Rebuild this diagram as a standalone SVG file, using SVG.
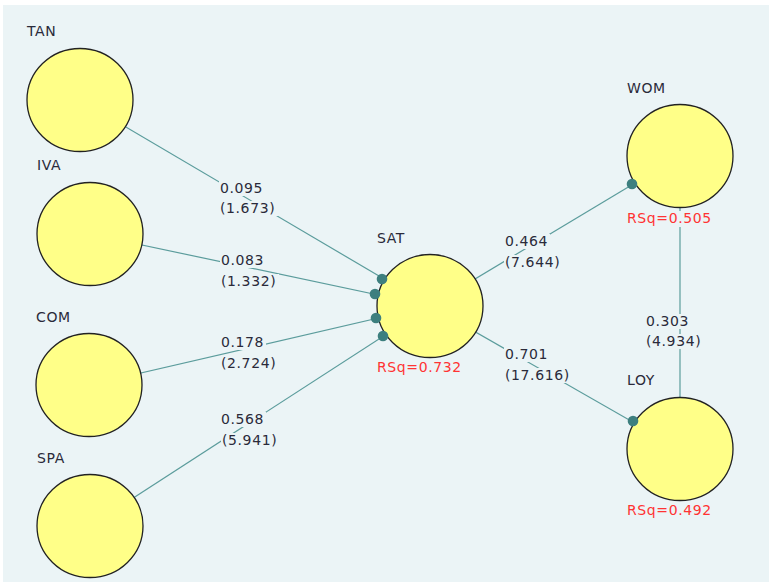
<svg xmlns="http://www.w3.org/2000/svg" width="769" height="582" viewBox="0 0 769 582">
<style>
text{font-family:"DejaVu Sans","Verdana",sans-serif;font-size:14px;letter-spacing:0.6px;fill:#2a2a3a}
.rsq{fill:#ff3333}
.lv{fill:#ffff88;stroke:#222;stroke-width:1.3}
.path{stroke:#5b9c9c;stroke-width:1.2;fill:none}
.dot{fill:#3d7f7f}
.bg{fill:#ebf4f6}
</style>
<rect x="0" y="0" width="769" height="582" fill="#ffffff"/>
<rect x="3" y="5" width="766" height="577" class="bg"/>
<g id="connectors">
<line class="path" x1="80" y1="100" x2="430" y2="306"/>
<line class="path" x1="90" y1="234" x2="430" y2="306"/>
<line class="path" x1="89" y1="385" x2="430" y2="306"/>
<line class="path" x1="90" y1="526" x2="430" y2="306"/>
<line class="path" x1="430" y1="306" x2="680" y2="156"/>
<line class="path" x1="430" y1="306" x2="680" y2="449"/>
<line class="path" x1="680" y1="156" x2="680" y2="449"/>
<g id="path-labels">
<rect class="bg" x="219" y="181" width="46" height="15"/><rect class="bg" x="219" y="201" width="59" height="15"/>
<text x="220" y="193">0.095</text><text x="220" y="213">(1.673)</text>
<rect class="bg" x="220" y="253" width="46" height="15"/><rect class="bg" x="220" y="274" width="59" height="15"/>
<text x="221" y="265">0.083</text><text x="221" y="286">(1.332)</text>
<rect class="bg" x="220" y="335" width="46" height="15"/><rect class="bg" x="220" y="356" width="59" height="15"/>
<text x="221" y="347">0.178</text><text x="221" y="368">(2.724)</text>
<rect class="bg" x="220" y="412" width="46" height="15"/><rect class="bg" x="221" y="433" width="59" height="15"/>
<text x="221" y="424">0.568</text><text x="222" y="445">(5.941)</text>
<rect class="bg" x="504" y="234" width="46" height="15"/><rect class="bg" x="504" y="255" width="59" height="15"/>
<text x="505" y="246">0.464</text><text x="505" y="267">(7.644)</text>
<rect class="bg" x="504" y="347" width="46" height="15"/><rect class="bg" x="504" y="368" width="68" height="15"/>
<text x="505" y="359">0.701</text><text x="505" y="380">(17.616)</text>
<rect class="bg" x="645" y="314" width="46" height="15"/><rect class="bg" x="645" y="334" width="59" height="15"/>
<text x="646" y="326">0.303</text><text x="646" y="346">(4.934)</text>
</g>
</g>
<g id="TAN"><ellipse class="lv" cx="80" cy="100" rx="53" ry="51.5"/><text x="27" y="36">TAN</text></g>
<g id="IVA"><ellipse class="lv" cx="90" cy="234" rx="53" ry="51.5"/><text x="37" y="170">IVA</text></g>
<g id="COM"><ellipse class="lv" cx="89" cy="385" rx="53" ry="51.5"/><text x="36" y="322">COM</text></g>
<g id="SPA"><ellipse class="lv" cx="90" cy="526" rx="53" ry="51.5"/><text x="37" y="463">SPA</text></g>
<g id="SAT"><ellipse class="lv" cx="430" cy="306" rx="53" ry="51.5"/><text x="377" y="243">SAT</text>
<rect class="bg" x="376" y="360" width="90" height="15"/><text class="rsq" x="377" y="372">RSq=0.732</text></g>
<g id="WOM"><ellipse class="lv" cx="680" cy="156" rx="53" ry="51.5"/><text x="627" y="93">WOM</text>
<rect class="bg" x="626" y="211" width="90" height="16"/><text class="rsq" x="627" y="223">RSq=0.505</text></g>
<g id="LOY"><ellipse class="lv" cx="680" cy="449" rx="53" ry="51.5"/><text x="627" y="385">LOY</text>
<rect class="bg" x="626" y="503" width="90" height="15"/><text class="rsq" x="627" y="515">RSq=0.492</text></g>
<g id="arrowheads">
<circle class="dot" cx="382" cy="279" r="5.3"/>
<circle class="dot" cx="375" cy="294" r="5.3"/>
<circle class="dot" cx="376" cy="318" r="5.3"/>
<circle class="dot" cx="383" cy="336" r="5.3"/>
<circle class="dot" cx="632" cy="184" r="5.3"/>
<circle class="dot" cx="633" cy="421" r="5.3"/>
</g>
</svg>
